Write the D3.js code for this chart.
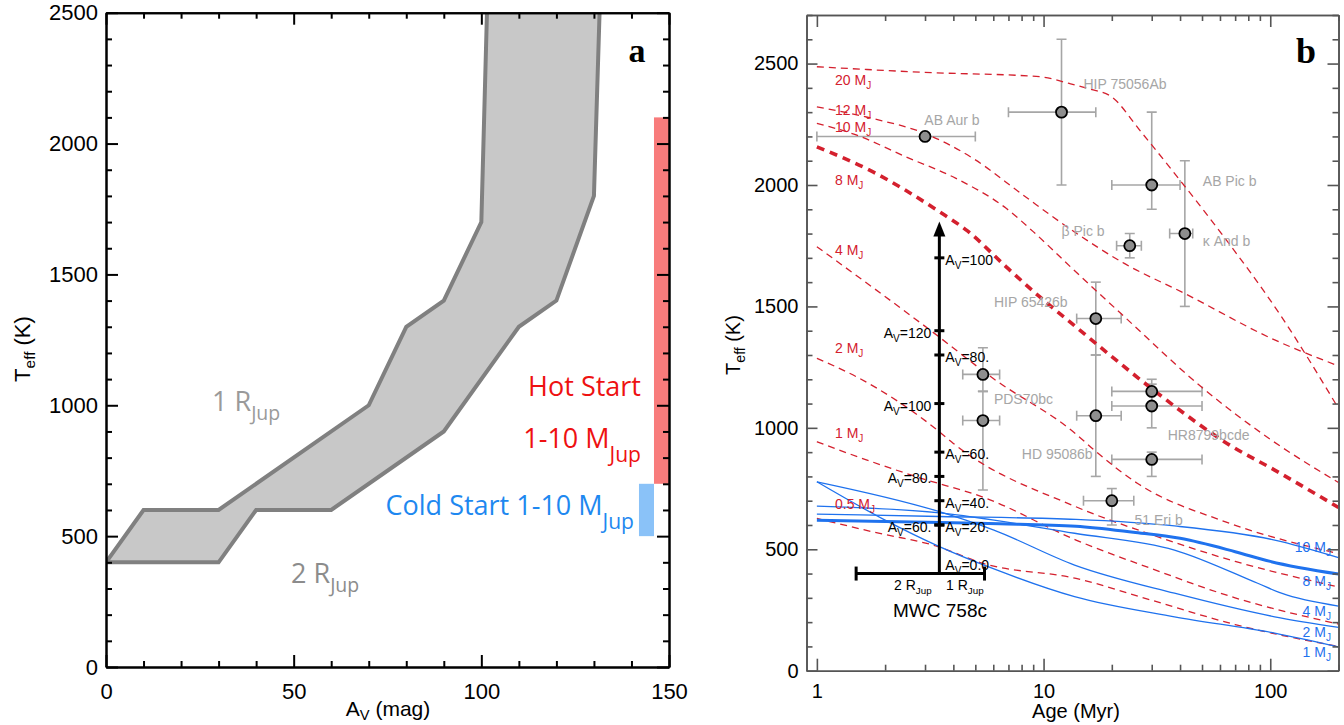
<!DOCTYPE html>
<html><head><meta charset="utf-8">
<script src="https://cdn.jsdelivr.net/npm/d3@7"></script>
<style>body{margin:0;background:#fff}svg{display:block}</style>
</head><body>
<svg id="c" width="1344" height="725"></svg>
<script>
// ---------------- DATA ----------------
// Panel a
const avTicksMajor = [0, 50, 100, 150];
const teffTicksA = [0, 500, 1000, 1500, 2000, 2500];
const edge1RJup = [[0,400],[10,600],[30,600],[70,1000],[80,1300],[90,1400],[100,1700],[101.5,2500]];
const edge2RJup = [[0,400],[30,400],[40,600],[60,600],[90,900],[110,1300],[120,1400],[130,1800],[131.5,2500]];
const hotStartAv = [146, 150];
const hotStartTeff = [700, 2100];
const coldStartAv = [142, 146];
const coldStartTeff = [500, 700];

// Panel b
const ageTicksMajor = [1, 10, 100];
const teffTicksB = [0, 500, 1000, 1500, 2000, 2500];
const hotNames = ["20","12","10","8","4","2","1","0.5"];
const hot20 = [[1,2487],[2.93,2464],[9.6,2446],[13,2418],[16,2395],[19.9,2364],[26.9,2219],[40.5,2013],[60.8,1801],[112,1458],[200,1080]];
const hot12 = [[1,2322],[1.76,2274],[2.98,2213],[4.88,2110],[8.11,1959],[13,1821],[22.7,1677],[41.8,1554],[104.6,1362],[200,1255]];
const hot10 = [[1,2254],[1.49,2206],[2.47,2116],[4.11,2027],[6.84,1904],[9,1808],[13.6,1650],[22.7,1458],[49.6,1169],[101,950],[200,775]];
const hot8  = [[1,2157],[1.76,2055],[3.47,1890],[4.6,1812],[6.84,1663],[9.6,1540],[13.6,1423],[19.2,1307],[31.9,1142],[66,930],[104.6,826],[200,672]];
const hot4  = [[1,1746],[3.3,1389],[5.98,1204],[13.8,977],[16.7,909],[26,771],[63,614],[200,482]];
const hot2  = [[1,1286],[1.49,1211],[3.47,984],[4.0,936],[13.9,675],[30,560],[70,450],[200,345]];
const hot1  = [[1,943],[1.25,909],[2.74,799],[5.58,710],[13.9,538],[30,420],[70,300],[200,192]];
const hot05 = [[1,627],[1.76,572],[3.42,511],[5.4,442],[13.9,380],[30,290],[70,190],[200,100]];
const hotLabelTeff = [2410, 2290, 2220, 2000, 1710, 1310, 960, 665];

const coldNames = ["10","8","4","2","1"];
const cold10 = [[1,645],[3.47,635],[13.9,623],[37.8,596],[104.6,538],[200,466]];
const cold8  = [[1,620],[3.5,610],[6.4,605],[13.9,595],[24.9,570],[40,545],[70,490],[100,450],[200,398]];
const cold4  = [[1,678],[3.47,650],[13.7,566],[37.8,497],[88,360],[112,319],[200,266]];
const cold2  = [[1,778],[3.47,655],[6,580],[13.7,435],[37.8,319],[104.6,222],[200,178]];
const cold1  = [[1,778],[2,620],[3.47,511],[6,420],[13.7,305],[37.8,222],[104.6,155],[200,98]];
const coldLabelTeff = [490, 350, 225, 140, 58];

const objNames = ["AB Aur b","HIP 75056Ab","AB Pic b","β Pic b","κ And b","HIP 65426b","PDS70 b","PDS70 c","HD 95086b","HR8799 e","HR8799 cd","HR8799 b","51 Eri b"];
const objAge   = [3, 12, 30, 24, 42, 17, 5.4, 5.4, 17, 30, 30, 30, 20];
const objAgeLo = [1, 7, 20, 21, 36, 14, 4.4, 4.4, 14, 20, 20, 20, 15];
const objAgeHi = [5, 17, 40, 27, 45.5, 22, 6.4, 6.4, 22, 50, 50, 50, 25];
const objTeff  = [2200, 2300, 2000, 1750, 1800, 1450, 1220, 1030, 1050, 1150, 1090, 870, 700];
const objTeffLo= [null, 2000, 1900, 1700, 1500, 1300, 1150, 744, 800, 1100, 1000, 800, 600];
const objTeffHi= [null, 2600, 2300, 1800, 2100, 1600, 1330, 1150, 1300, 1200, 1180, 900, 750];
const objLabels = ["AB Aur b","HIP 75056Ab","AB Pic b","β Pic b","κ And b","HIP 65426b","PDS70bc","HR8799bcde","HD 95086b","51 Eri b"];
const objLabelAge = [2.98, 15.0, 50.4, 12.0, 50.4, 6.04, 6.04, 35.3, 8.02, 25.2];
const objLabelTeff= [2247, 2395, 1995, 1790, 1749, 1498, 1098, 950, 872, 600];

const mwcAge = 3.47;
const mwcTeffBase = 400, mwcTeffTop = 1850;
const mwcBarAge = [1.49, 5.49];
const avRightLabels = ["100","80.","60.","40.","20."];
const avRightTeff   = [1700, 1300, 900, 700, 600];
const avLeftLabels  = ["120","100","80.","60."];
const avLeftTeff    = [1400, 1100, 800, 600];

// ---------------- DRAW ----------------
const svg = d3.select("#c");
const SANS = "'Liberation Sans', Arial, Helvetica, sans-serif";
const HUM = "'Open Sans', 'Noto Sans', sans-serif";
const SERIF = "'Liberation Serif', 'Times New Roman', serif";

function styleAxis(g, color, w, fs){
  g.attr("font-family", SANS).attr("font-size", fs);
  g.select(".domain").attr("stroke", color).attr("stroke-width", w);
  g.selectAll(".tick line").attr("stroke", color).attr("stroke-width", w);
  g.selectAll(".tick text").attr("fill", "#000");
}
function subText(g, x, y, parts, opts){
  const t = g.append("text").attr("x", x).attr("y", y)
    .attr("font-family", opts.font).attr("font-size", opts.size).attr("fill", opts.color)
    .attr("text-anchor", opts.anchor || "start");
  if (opts.rotate) t.attr("transform", `rotate(${opts.rotate},${x},${y})`);
  let shifted = 0;
  parts.forEach(([s, sub]) => {
    const ts = t.append("tspan").text(s);
    if (sub) { ts.attr("font-size", opts.size * opts.subScale).attr("dy", opts.subDy - shifted); shifted = opts.subDy; }
    else if (shifted) { ts.attr("dy", -shifted); shifted = 0; }
  });
  return t;
}

// ===== Panel a =====
const xA = d3.scaleLinear().domain([0,150]).range([106,669]);
const yA = d3.scaleLinear().domain([0,2500]).range([667,12.7]);
const gA = svg.append("g");
gA.append("clipPath").attr("id","clipA").append("rect")
  .attr("x", xA(0)).attr("y", yA(2500)).attr("width", xA(150)-xA(0)).attr("height", yA(0)-yA(2500));
const plotA = gA.append("g").attr("clip-path","url(#clipA)");
const lineA = d3.line().x(d=>xA(d[0])).y(d=>yA(d[1]));
plotA.append("path").attr("d", lineA(edge1RJup.concat(edge2RJup.slice().reverse())) + "Z").attr("fill","#c8c8c8");
[edge1RJup, edge2RJup].forEach(e => plotA.append("path").attr("d", lineA(e))
  .attr("fill","none").attr("stroke","#808080").attr("stroke-width",4).attr("stroke-linejoin","miter"));
plotA.append("rect").attr("x", xA(hotStartAv[0])).attr("width", xA(hotStartAv[1])-xA(hotStartAv[0]))
  .attr("y", yA(hotStartTeff[1])).attr("height", yA(hotStartTeff[0])-yA(hotStartTeff[1])).attr("fill","#f87b7b");
plotA.append("rect").attr("x", xA(coldStartAv[0])).attr("width", xA(coldStartAv[1])-xA(coldStartAv[0]))
  .attr("y", yA(coldStartTeff[1])).attr("height", yA(coldStartTeff[0])-yA(coldStartTeff[1])).attr("fill","#8ac2f8");

const minorAv = d3.range(0,151,10).filter(d=>d%50);
const minorTA = d3.range(0,2501,100).filter(d=>d%500);
function axesA(){
  const a = [];
  a.push(gA.append("g").attr("transform",`translate(0,${yA(0)})`).call(d3.axisBottom(xA).tickValues(avTicksMajor).tickSize(-12).tickSizeOuter(0).tickPadding(16).tickFormat(d3.format("d"))));
  a.push(gA.append("g").attr("transform",`translate(0,${yA(0)})`).call(d3.axisBottom(xA).tickValues(minorAv).tickSize(-6).tickSizeOuter(0).tickFormat("")));
  a.push(gA.append("g").attr("transform",`translate(0,${yA(2500)})`).call(d3.axisTop(xA).tickValues(avTicksMajor).tickSize(-12).tickSizeOuter(0).tickFormat("")));
  a.push(gA.append("g").attr("transform",`translate(0,${yA(2500)})`).call(d3.axisTop(xA).tickValues(minorAv).tickSize(-6).tickSizeOuter(0).tickFormat("")));
  a.push(gA.append("g").attr("transform",`translate(${xA(0)},0)`).call(d3.axisLeft(yA).tickValues(teffTicksA).tickSize(-12).tickSizeOuter(0).tickPadding(8).tickFormat(d3.format("d"))));
  a.push(gA.append("g").attr("transform",`translate(${xA(0)},0)`).call(d3.axisLeft(yA).tickValues(minorTA).tickSize(-6).tickSizeOuter(0).tickFormat("")));
  a.push(gA.append("g").attr("transform",`translate(${xA(150)},0)`).call(d3.axisRight(yA).tickValues(teffTicksA).tickSize(-12).tickSizeOuter(0).tickFormat("")));
  a.push(gA.append("g").attr("transform",`translate(${xA(150)},0)`).call(d3.axisRight(yA).tickValues(minorTA).tickSize(-6).tickSizeOuter(0).tickFormat("")));
  a.forEach(g => styleAxis(g, "#000", 2, 22));
}
axesA();

subText(gA, 388, 716, [["A",0],["V",1],[" (mag)",0]], {font:SANS, size:21, color:"#000", anchor:"middle", subScale:0.7, subDy:4});
subText(gA, 30, 349, [["T",0],["eff",1],[" (K)",0]], {font:SANS, size:22, color:"#000", anchor:"middle", subScale:0.7, subDy:5, rotate:-90});
gA.append("text").attr("x", 637).attr("y", 62).attr("text-anchor","middle").attr("font-family",SERIF).attr("font-weight","bold").attr("font-size",34).text("a");

subText(gA, 212, 411, [["1 R",0],["Jup",1]], {font:HUM, size:27, color:"#9a9a9a", subScale:0.72, subDy:9});
subText(gA, 291, 583, [["2 R",0],["Jup",1]], {font:HUM, size:27, color:"#8c8c8c", subScale:0.72, subDy:9});
gA.append("text").attr("x", 641).attr("y", 396).attr("text-anchor","end").attr("font-family",HUM).attr("font-size",27).attr("fill","#ee1111").text("Hot Start");
subText(gA, 641, 448, [["1-10 M",0],["Jup",1]], {font:HUM, size:27, color:"#ee1111", anchor:"end", subScale:0.78, subDy:14});
subText(gA, 634, 515, [["Cold Start 1-10 M",0],["Jup",1]], {font:HUM, size:27, color:"#1e88f0", anchor:"end", subScale:0.78, subDy:14});

// ===== Panel b =====
const xB = d3.scaleLog().domain([0.9,200]).range([806.5,1338.5]);
const yB = d3.scaleLinear().domain([0,2700]).range([670.7,15]);
const gB = svg.append("g");
gB.append("clipPath").attr("id","clipB").append("rect")
  .attr("x", xB(0.9)).attr("y", yB(2700)).attr("width", xB(200)-xB(0.9)).attr("height", yB(0)-yB(2700));
const plotB = gB.append("g").attr("clip-path","url(#clipB)");
const lineB = d3.line().x(d=>xB(d[0])).y(d=>yB(d[1])).curve(d3.curveMonotoneX);
const RED = "#d4202e", BLUE = "#1f72ee", GREY = "#a6a6a6";

// error bars
const eb = plotB.append("g").attr("stroke", GREY).attr("stroke-width", 1.6).attr("fill","none");
objAge.forEach((a,i) => {
  const y = yB(objTeff[i]);
  eb.append("line").attr("x1", xB(objAgeLo[i])).attr("x2", xB(objAgeHi[i])).attr("y1", y).attr("y2", y);
  [objAgeLo[i], objAgeHi[i]].forEach(v => eb.append("line").attr("x1", xB(v)).attr("x2", xB(v)).attr("y1", y-5).attr("y2", y+5));
  if (objTeffLo[i] !== null) {
    const x = xB(a);
    eb.append("line").attr("x1", x).attr("x2", x).attr("y1", yB(objTeffLo[i])).attr("y2", yB(objTeffHi[i]));
    [objTeffLo[i], objTeffHi[i]].forEach(v => eb.append("line").attr("x1", x-5).attr("x2", x+5).attr("y1", yB(v)).attr("y2", yB(v)));
  }
});

// hot start tracks (red dashed)
[hot20, hot12, hot10, hot8, hot4, hot2, hot1, hot05].forEach((tr, i) => {
  const thick = hotNames[i] === "8";
  plotB.append("path").attr("d", lineB(tr)).attr("fill","none").attr("stroke", RED)
    .attr("stroke-width", thick ? 3.6 : 1.3).attr("stroke-dasharray", thick ? "8,6" : "7,5");
});
// cold start tracks (blue solid)
[cold10, cold8, cold4, cold2, cold1].forEach((tr, i) => {
  const thick = coldNames[i] === "8";
  plotB.append("path").attr("d", lineB(tr)).attr("fill","none").attr("stroke", BLUE)
    .attr("stroke-width", thick ? 3 : 1.3);
});

plotB.append("g").selectAll("circle").data(objAge).join("circle")
  .attr("cx", d => xB(d)).attr("cy", (d,i) => yB(objTeff[i])).attr("r", 5.5)
  .attr("fill", "#8e8e8e").attr("stroke", "#000").attr("stroke-width", 1.8);

objLabels.forEach((s,i) => gB.append("text").attr("x", xB(objLabelAge[i])).attr("y", yB(objLabelTeff[i]))
  .attr("font-family", SANS).attr("font-size", 14).attr("fill", GREY).text(s));

hotNames.forEach((m,i) => subText(gB, 835, yB(hotLabelTeff[i]), [[m+" M",0],["J",1]],
  {font:SANS, size:14, color:RED, subScale:0.72, subDy:4}));
coldNames.forEach((m,i) => subText(gB, 1331, yB(coldLabelTeff[i]), [[m+" M",0],["J",1]],
  {font:SANS, size:14, color:BLUE, anchor:"end", subScale:0.72, subDy:4}));

// MWC 758c arrow
const ax = xB(mwcAge);
const mg = gB.append("g");
mg.append("line").attr("x1", ax).attr("x2", ax).attr("y1", yB(mwcTeffBase)).attr("y2", yB(mwcTeffTop)+12)
  .attr("stroke","#000").attr("stroke-width",3);
mg.append("path").attr("d", `M${ax},${yB(mwcTeffTop)} L${ax-6},${yB(mwcTeffTop)+15} L${ax+6},${yB(mwcTeffTop)+15}Z`).attr("fill","#000");
const by = yB(mwcTeffBase);
mg.append("line").attr("x1", xB(mwcBarAge[0])).attr("x2", xB(mwcBarAge[1])).attr("y1", by).attr("y2", by).attr("stroke","#000").attr("stroke-width",3);
mwcBarAge.forEach(a => mg.append("line").attr("x1", xB(a)).attr("x2", xB(a)).attr("y1", by-7).attr("y2", by+7).attr("stroke","#000").attr("stroke-width",3));
avRightTeff.concat(avLeftTeff).forEach(t => mg.append("line").attr("x1", ax-5).attr("x2", ax+5).attr("y1", yB(t)).attr("y2", yB(t)).attr("stroke","#000").attr("stroke-width",3));
const avOpts = {font:SANS, size:14, color:"#000", subScale:0.72, subDy:4};
avRightLabels.forEach((s,i) => subText(mg, ax+6, yB(avRightTeff[i])+7, [["A",0],["V",1],["="+s,0]], avOpts));
avLeftLabels.forEach((s,i) => subText(mg, ax-8, yB(avLeftTeff[i])+7, [["A",0],["V",1],["="+s,0]], Object.assign({anchor:"end"}, avOpts)));
subText(mg, ax+6, yB(mwcTeffBase)-4, [["A",0],["V",1],["=0.0",0]], avOpts);
subText(mg, 894, 590, [["2 R",0],["Jup",1]], {font:SANS, size:14, color:"#000", subScale:0.7, subDy:4});
subText(mg, 946, 590, [["1 R",0],["Jup",1]], {font:SANS, size:14, color:"#000", subScale:0.7, subDy:4});
mg.append("text").attr("x", 940).attr("y", 617).attr("text-anchor","middle").attr("font-family",SANS).attr("font-size",19).text("MWC 758c");

// axes b
const minorAge = [2,3,4,5,6,7,8,9,20,30,40,50,60,70,80,90,200];
const minorTB = d3.range(0,2701,100).filter(d=>d%500);
function axesB(){
  const a = [];
  a.push(gB.append("g").attr("transform",`translate(0,${yB(0)})`).call(d3.axisBottom(xB).tickValues(ageTicksMajor).tickSize(-12).tickSizeOuter(0).tickPadding(13).tickFormat(d3.format("d"))));
  a.push(gB.append("g").attr("transform",`translate(0,${yB(0)})`).call(d3.axisBottom(xB).tickValues(minorAge).tickSize(-6).tickSizeOuter(0).tickFormat("")));
  a.push(gB.append("g").attr("transform",`translate(0,${yB(2700)})`).call(d3.axisTop(xB).tickValues(ageTicksMajor).tickSize(-12).tickSizeOuter(0).tickFormat("")));
  a.push(gB.append("g").attr("transform",`translate(0,${yB(2700)})`).call(d3.axisTop(xB).tickValues(minorAge).tickSize(-6).tickSizeOuter(0).tickFormat("")));
  a.push(gB.append("g").attr("transform",`translate(${xB(0.9)},0)`).call(d3.axisLeft(yB).tickValues(teffTicksB).tickSize(-11).tickSizeOuter(0).tickPadding(8).tickFormat(d3.format("d"))));
  a.push(gB.append("g").attr("transform",`translate(${xB(0.9)},0)`).call(d3.axisLeft(yB).tickValues(minorTB).tickSize(-6).tickSizeOuter(0).tickFormat("")));
  a.push(gB.append("g").attr("transform",`translate(${xB(200)},0)`).call(d3.axisRight(yB).tickValues(teffTicksB).tickSize(-11).tickSizeOuter(0).tickFormat("")));
  a.push(gB.append("g").attr("transform",`translate(${xB(200)},0)`).call(d3.axisRight(yB).tickValues(minorTB).tickSize(-6).tickSizeOuter(0).tickFormat("")));
  a.forEach(g => styleAxis(g, "#555", 1.6, 20));
}
axesB();
gB.append("text").attr("x", 1076).attr("y", 718).attr("text-anchor","middle").attr("font-family",SANS).attr("font-size",20).text("Age (Myr)");
subText(gB, 740, 345, [["T",0],["eff",1],[" (K)",0]], {font:SANS, size:20, color:"#000", anchor:"middle", subScale:0.7, subDy:5, rotate:-90});
gB.append("text").attr("x", 1306).attr("y", 63).attr("text-anchor","middle").attr("font-family",SERIF).attr("font-weight","bold").attr("font-size",36).text("b");
</script>
</body></html>
